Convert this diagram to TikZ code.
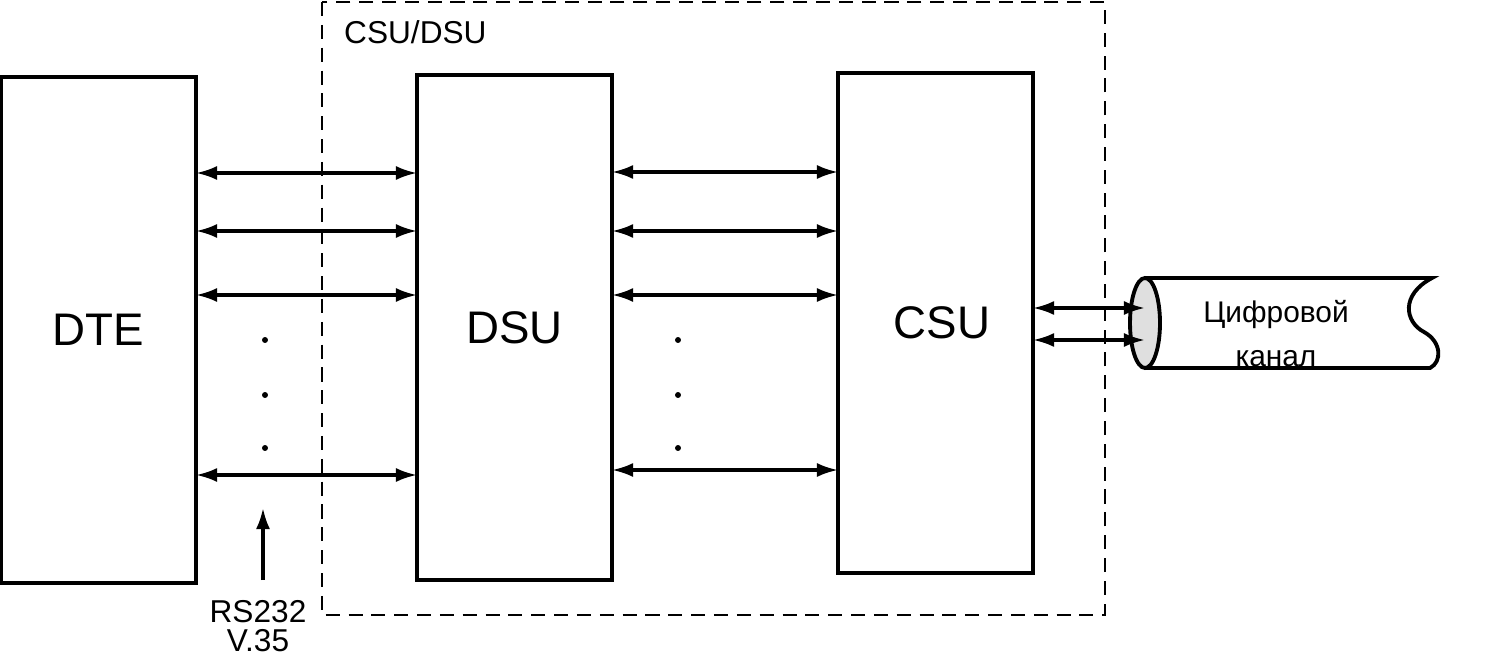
\documentclass[tikz,border=0pt]{standalone}
\usepackage{fontspec}
\setmainfont{Liberation Sans}
\usetikzlibrary{arrows.meta, shapes.geometric}
\tikzset{
  unit/.style={draw, line width=2.4pt, minimum width=3.9cm, outer sep=0pt},
  unitname/.style={font=\fontsize{26}{30}\selectfont},
  link/.style={line width=1.8pt, {Latex[length=12pt,width=8pt]}-{Latex[length=12pt,width=8pt]}},
  frame/.style={line width=1.6pt, dash pattern=on 8pt off 5pt},
}

\begin{document}
\begin{tikzpicture}[x=0.02cm, y=-0.02cm]
        \useasboundingbox (0,0) rectangle (1503,672);
        % Frame
        \draw[frame] (322,2) rectangle (1105,615);
        \node[anchor=west, font=\fontsize{18}{20}\selectfont] (title) at (338,32) {CSU/DSU};
        % Units
        \node[unit, minimum height=10.12cm, label={[unitname]center:DTE}] (dte) at (98.5,330) {};
        \node[unit, minimum height=10.1cm, label={[unitname]center:DSU}] (dsu) at (514.5,327.5) {};
        \node[unit, minimum height=10cm, label={[unitname, xshift=0.13cm]center:CSU}] (csu) at (935.5,323) {};
        % Lines
        \foreach \y in {173,231,295,475}
          \draw[link] (dte.east |- 0,\y) -- (dsu.west |- 0,\y);
        \foreach \y in {172,231,295,470}
          \draw[link] (dsu.east |- 0,\y) -- (csu.west |- 0,\y);
        \foreach \x in {265,678}
          \foreach \y in {340,395,448}
            \fill (\x,\y) circle (1.7pt);
        % Channel
        \draw[line width=2.2pt] (1145,278) -- (1432,278)
          .. controls (1400,295) and (1405,322) .. (1424,332)
          .. controls (1442,342) and (1442,362) .. (1430,368) -- (1145,368);
        \node[ellipse, draw, line width=2.2pt, fill=gray!25, minimum width=0.6cm, minimum height=1.8cm, inner sep=0pt] (cable) at (1145,323) {};
        \node[align=center, font=\fontsize{17}{25}\selectfont] (chan) at (1276,334) {Цифровой\\канал};
        \foreach \y in {308,340}
          \draw[link] (csu.east |- 0,\y) -- (cable.center |- 0,\y);
        % Interface
        \node[align=center, font=\fontsize{18}{16.5}\selectfont] (rs) at (258,626) {RS232\\V.35};
        \coordinate (rsfoot) at (263,580);
        \coordinate (rstip) at (263,508);
        \draw[line width=1.8pt, -{Latex[length=12pt,width=8pt]}] (rsfoot) -- (rstip);
      \end{tikzpicture}
\end{document}
